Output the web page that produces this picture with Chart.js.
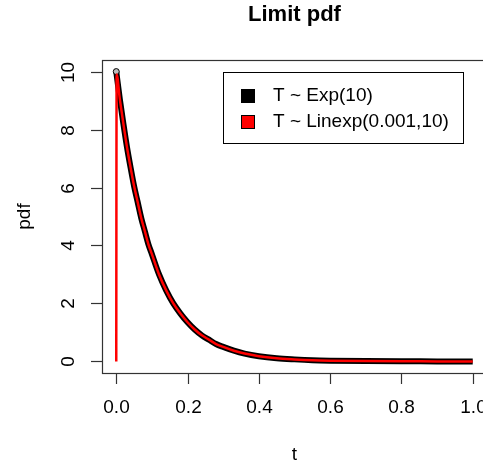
<!DOCTYPE html>
<html>
<head>
<meta charset="utf-8">
<script src="https://cdn.jsdelivr.net/npm/chart.js@4.4.0/dist/chart.umd.min.js"></script>
<style>
  html, body { margin: 0; padding: 0; background: #fff; overflow: hidden; }
  #wrap { width: 500px; height: 468px; }
</style>
</head>
<body>
<div id="wrap"><canvas id="canvasPdf" width="500" height="468"></canvas></div>
<script>
// valores
var tiempos = [0, 0.01, 0.02, 0.03, 0.04, 0.05, 0.06, 0.07, 0.08, 0.09, 0.10,
    0.12, 0.14, 0.16, 0.18, 0.20, 0.22, 0.24, 0.26, 0.28, 0.30,
    0.33, 0.36, 0.40, 0.45, 0.50, 0.55, 0.60, 0.70, 0.80, 0.90, 1.00];
var pdfExp = [10, 9.05, 8.2, 7.4, 6.7, 6.05, 5.5, 4.95, 4.5, 4.05, 3.7,
    3.0, 2.45, 2.0, 1.65, 1.35, 1.1, 0.9, 0.75, 0.6, 0.5,
    0.37, 0.27, 0.18, 0.11, 0.07, 0.04, 0.025, 0.01, 0.003, 0.001, 0];
var tiemposLinexp = [0, 0.001, 0.01, 0.02, 0.03, 0.04, 0.05, 0.06, 0.07, 0.08, 0.09, 0.10,
    0.12, 0.14, 0.16, 0.18, 0.20, 0.22, 0.24, 0.26, 0.28, 0.30,
    0.33, 0.36, 0.40, 0.45, 0.50, 0.55, 0.60, 0.70, 0.80, 0.90, 1.00];
var pdfLinexp = [0, 9.9, 9.05, 8.2, 7.4, 6.7, 6.05, 5.5, 4.95, 4.5, 4.05, 3.7,
    3.0, 2.45, 2.0, 1.65, 1.35, 1.1, 0.9, 0.75, 0.6, 0.5,
    0.37, 0.27, 0.18, 0.11, 0.07, 0.04, 0.025, 0.01, 0.003, 0.001, 0];
var ticksX = [0, 0.2, 0.4, 0.6, 0.8, 1.0];
var ticksY = [0, 2, 4, 6, 8, 10];
var etiquetas = ['T ~ Exp(10)', 'T ~ Linexp(0.001,10)'];
var colores = ['#000000', '#ff0000'];

var fuente = '"Liberation Sans", Arial, sans-serif';

function puntos(xs, ys) {
    let out = [];
    for (let i = 0; i < xs.length; i++) {
        out = [...out, { x: xs[i], y: ys[i] }];
    }
    return out;
}

// ejes, titulo y leyenda estilo R
var estiloR = {
    id: 'estiloR',
    afterDraw: function (chart) {
        let ctx = chart.ctx;
        let a = chart.chartArea;
        let sx = chart.scales.x;
        let sy = chart.scales.y;
        let cx = (a.left + a.right) / 2;
        let cy = (a.top + a.bottom) / 2;
        ctx.save();

        // caja
        ctx.strokeStyle = '#333';
        ctx.lineWidth = 1.2;
        ctx.strokeRect(Math.round(a.left) + 0.5, Math.round(a.top) + 0.5,
            Math.round(a.right - a.left), Math.round(a.bottom - a.top));

        ctx.fillStyle = '#000';
        ctx.font = '19px ' + fuente;
        ctx.textAlign = 'center';
        ctx.textBaseline = 'middle';

        // eje x
        ticksX.forEach(function (v) {
            let px = Math.round(sx.getPixelForValue(v)) + 0.5;
            ctx.beginPath();
            ctx.moveTo(px, a.bottom);
            ctx.lineTo(px, a.bottom + 11);
            ctx.stroke();
            ctx.fillText(v.toFixed(1), px, 408);
        });

        // eje y
        ticksY.forEach(function (v) {
            let py = Math.round(sy.getPixelForValue(v)) + 0.5;
            ctx.beginPath();
            ctx.moveTo(a.left - 11, py);
            ctx.lineTo(a.left, py);
            ctx.stroke();
            ctx.save();
            ctx.translate(69, py);
            ctx.rotate(-Math.PI / 2);
            ctx.fillText(String(v), 0, 0);
            ctx.restore();
        });

        // titulos de ejes
        ctx.fillText('t', cx, 455);
        ctx.save();
        ctx.translate(25, cy);
        ctx.rotate(-Math.PI / 2);
        ctx.fillText('pdf', 0, 0);
        ctx.restore();

        // titulo
        ctx.font = 'bold 22px ' + fuente;
        ctx.fillText('Limit pdf', cx, 15);

        // leyenda
        ctx.fillStyle = '#fff';
        ctx.fillRect(223.5, 72.5, 240, 71);
        ctx.strokeStyle = '#000';
        ctx.lineWidth = 1;
        ctx.strokeRect(223.5, 72.5, 240, 71);
        ctx.font = '19px ' + fuente;
        ctx.textAlign = 'left';
        let filas = [96, 122];
        for (let i = 0; i < etiquetas.length; i++) {
            ctx.fillStyle = colores[i];
            ctx.fillRect(241, filas[i] - 7, 14, 14);
            ctx.strokeStyle = '#000';
            ctx.strokeRect(241.5, filas[i] - 6.5, 13, 13);
            ctx.fillStyle = '#000';
            ctx.fillText(etiquetas[i], 273, filas[i]);
        }
        ctx.restore();
    }
};

var ctx = document.getElementById('canvasPdf').getContext('2d');
var chartPdf = new Chart(ctx, {
    type: 'scatter',
    data: {
        datasets: [{
            label: etiquetas[0],
            data: puntos(tiempos, pdfExp),
            showLine: true,
            borderColor: colores[0],
            borderWidth: 6,
            pointRadius: function (c) { return c.dataIndex === 0 ? 3 : 0; },
            pointBorderColor: '#000',
            pointBackgroundColor: '#bbb',
            pointBorderWidth: 1,
            cubicInterpolationMode: 'monotone',
            order: 1
        }, {
            label: etiquetas[1],
            data: puntos(tiemposLinexp, pdfLinexp),
            showLine: true,
            borderColor: colores[1],
            borderWidth: 2.5,
            pointRadius: 0,
            cubicInterpolationMode: 'monotone',
            order: 0
        }]
    },
    options: {
        responsive: false,
        animation: false,
        layout: { padding: { left: 102, top: 60, right: 13, bottom: 95 } },
        plugins: { legend: { display: false }, tooltip: { enabled: false } },
        scales: {
            x: { type: 'linear', min: -0.04, max: 1.04, display: false },
            y: { type: 'linear', min: -0.4, max: 10.4, display: false }
        }
    },
    plugins: [estiloR]
});
</script>
</body>
</html>
